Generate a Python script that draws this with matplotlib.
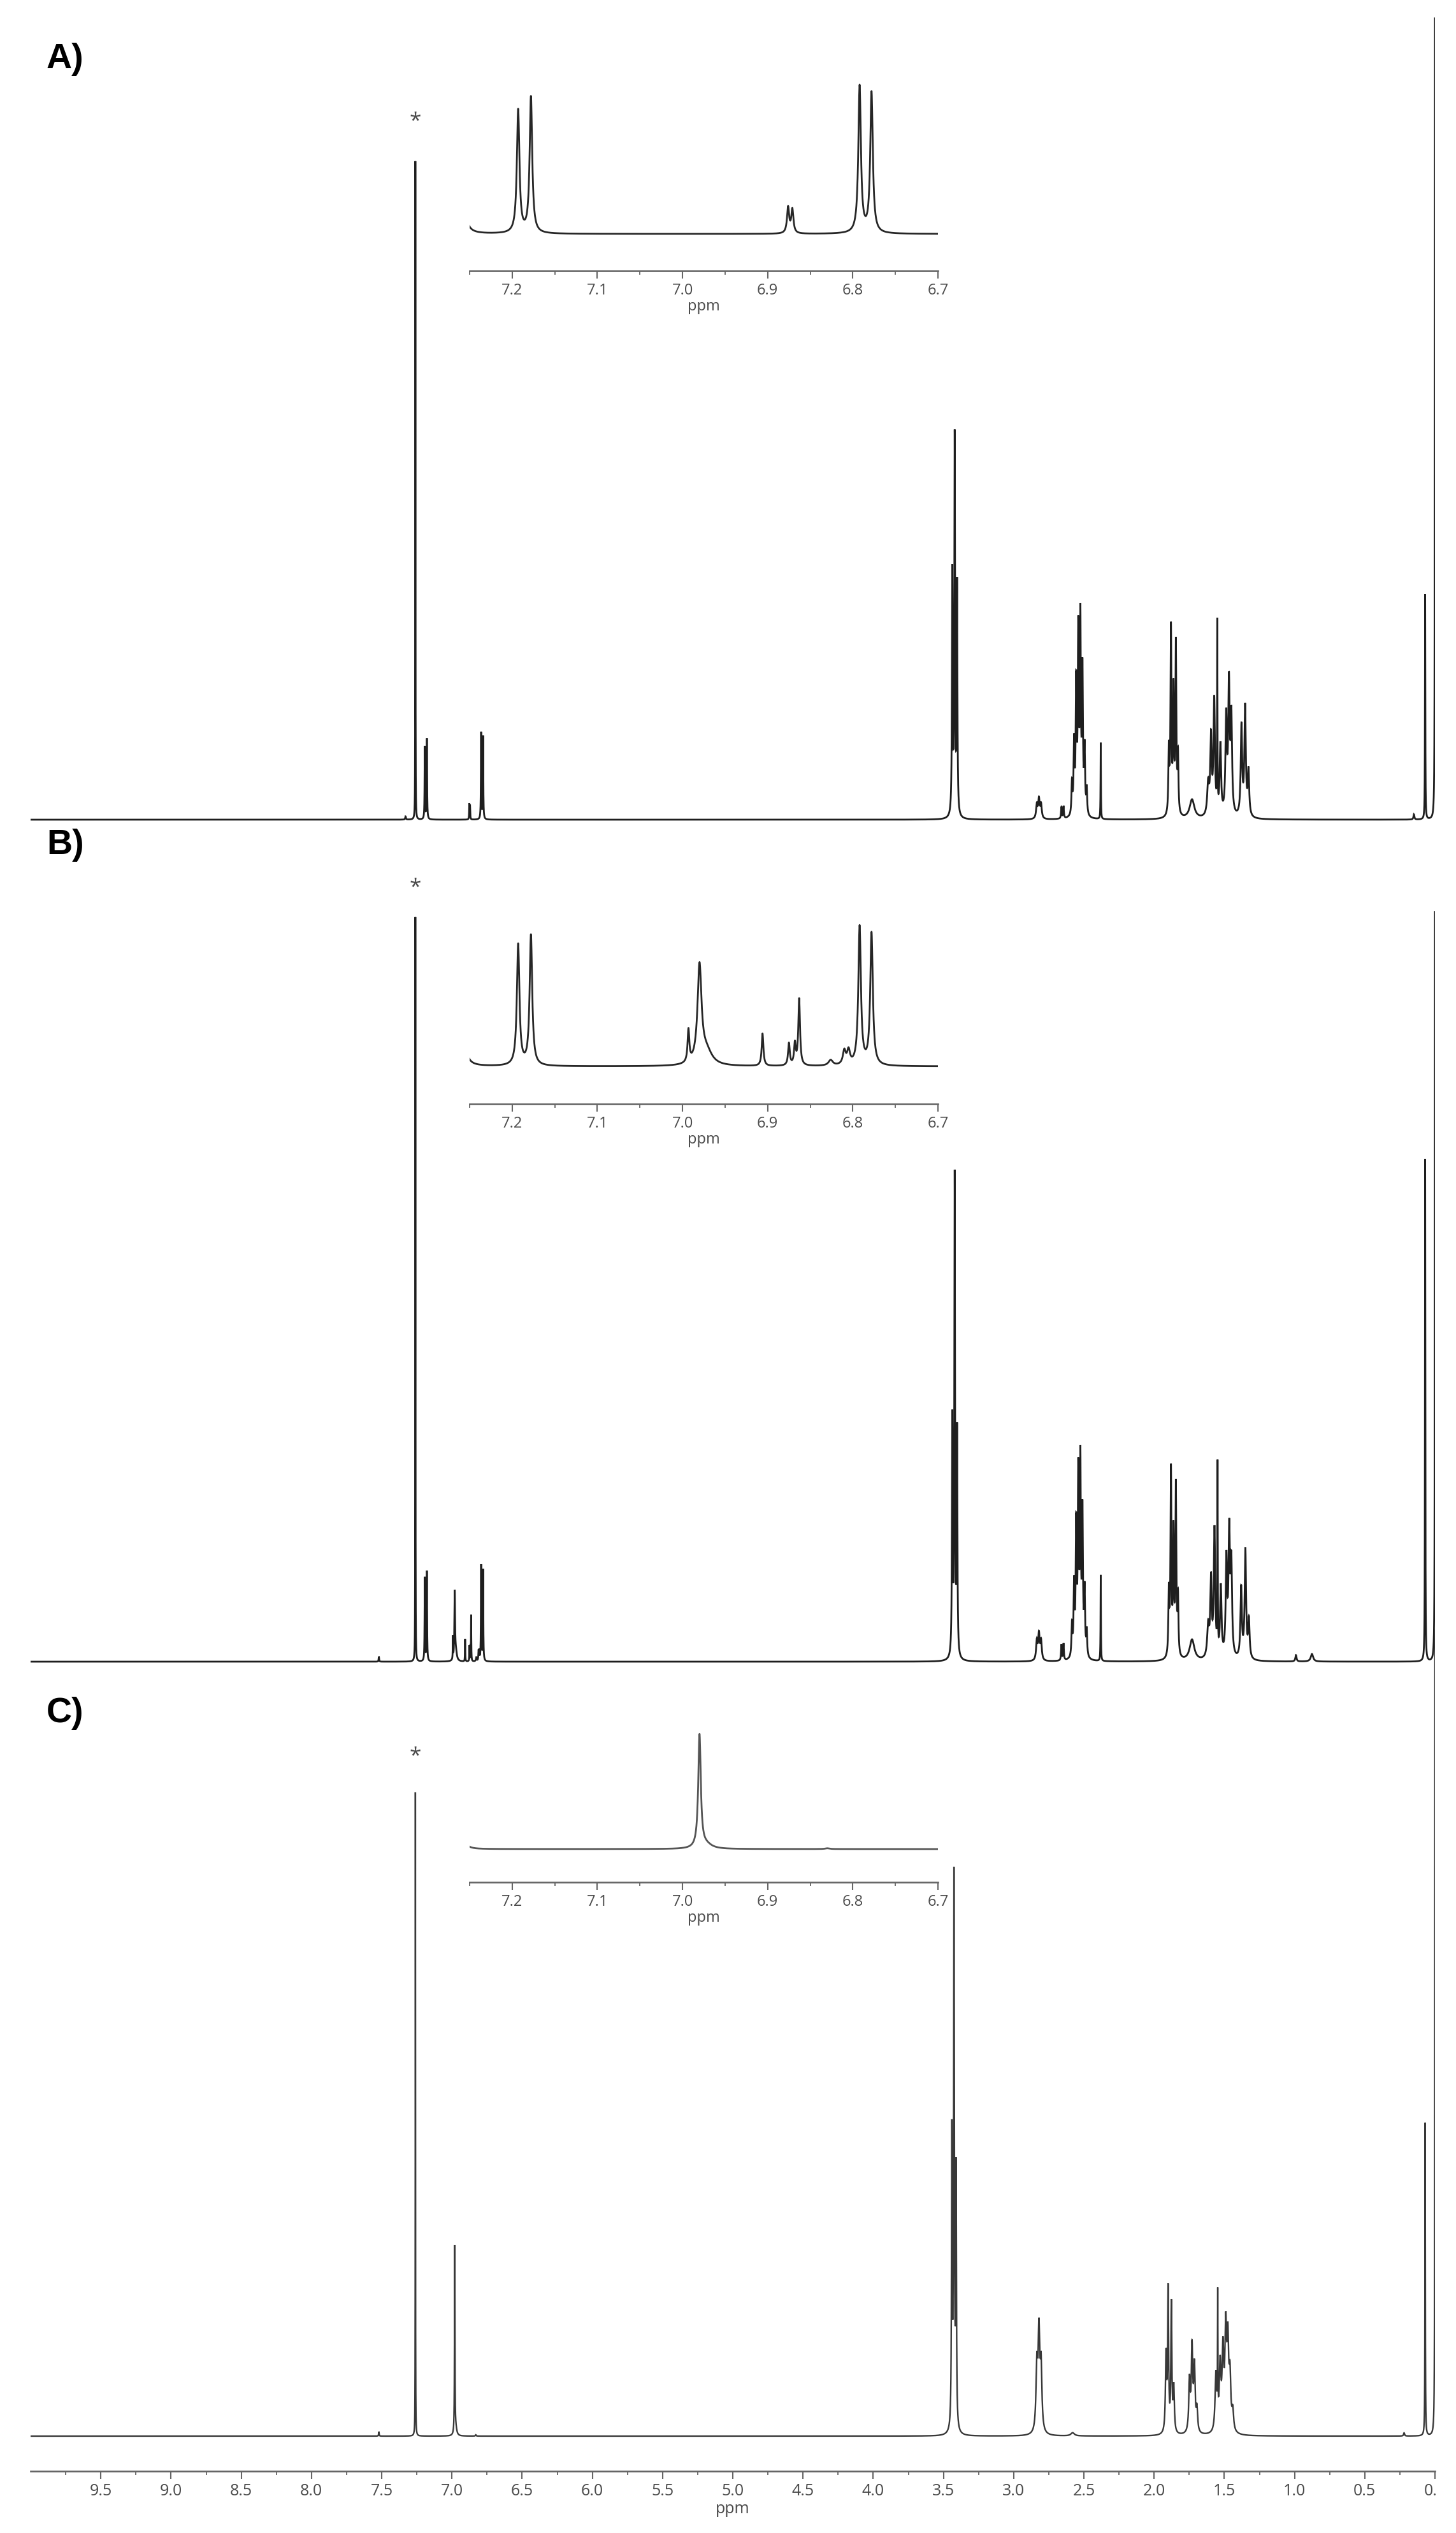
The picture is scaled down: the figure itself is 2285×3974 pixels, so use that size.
import numpy as np
import matplotlib
matplotlib.use("Agg")
import matplotlib.pyplot as plt
from matplotlib.patches import Rectangle
from matplotlib.ticker import FixedLocator, FormatStrFormatter

# ---------------- data (peak tables) ----------------
# each panel: chemical shift (ppm), peak height (a.u.), half width (ppm)
A_ppm = [7.33, 7.26, 7.193, 7.178, 6.876, 6.871, 6.792, 6.778,
         3.437, 3.420, 3.403, 2.835, 2.820, 2.805, 2.660, 2.645,
         2.585, 2.570, 2.555, 2.540, 2.525, 2.510, 2.495, 2.480, 2.380,
         1.895, 1.880, 1.862, 1.845, 1.830, 1.730,
         1.615, 1.595, 1.572, 1.550, 1.528, 1.487, 1.467, 1.450,
         1.378, 1.352, 1.328, 0.150, 0.070, 0.000]
A_height = [5, 1033, 114, 126, 24, 22, 136, 130,
            380, 590, 360, 22, 30, 22, 18, 19,
            50, 110, 200, 280, 300, 220, 100, 40, 120,
            100, 290, 190, 265, 90, 30,
            50, 120, 180, 290, 110, 150, 200, 150,
            140, 170, 70, 8, 353, 1257]
A_hwhm = [0.003, 0.0008, 0.0018, 0.0018, 0.0015, 0.0015, 0.0018, 0.0018,
          0.003, 0.003, 0.003, 0.006, 0.006, 0.006, 0.003, 0.003,
          0.004, 0.004, 0.004, 0.004, 0.004, 0.004, 0.004, 0.004, 0.0015,
          0.004, 0.004, 0.004, 0.004, 0.004, 0.02,
          0.008, 0.006, 0.006, 0.0015, 0.006, 0.006, 0.006, 0.006,
          0.006, 0.006, 0.006, 0.004, 0.0015, 0.0015]

B_ppm = [7.52, 7.26, 7.193, 7.178, 6.993, 6.980, 6.972, 6.906, 6.875, 6.868,
         6.863, 6.826, 6.810, 6.805, 6.792, 6.778,
         3.437, 3.420, 3.403, 2.835, 2.820, 2.805, 2.660, 2.645,
         2.585, 2.570, 2.555, 2.540, 2.525, 2.510, 2.495, 2.480, 2.380,
         1.895, 1.880, 1.862, 1.845, 1.830, 1.730,
         1.615, 1.595, 1.570, 1.548, 1.525, 1.485, 1.465, 1.450,
         1.380, 1.350, 1.325, 0.990, 0.876, 0.070, 0.000]
B_height = [8, 1168, 131, 141, 35, 105, 15, 35, 24, 23,
            72, 6, 15, 15, 150, 143,
            370, 750, 350, 30, 40, 30, 25, 26,
            50, 110, 200, 280, 300, 220, 100, 40, 135,
            100, 290, 190, 265, 90, 33,
            50, 120, 200, 290, 110, 150, 190, 140,
            110, 170, 60, 10, 12, 788, 1176]
B_hwhm = [0.002, 0.0008, 0.0018, 0.0018, 0.0012, 0.0028, 0.008, 0.0012, 0.0012, 0.0012,
          0.0012, 0.003, 0.002, 0.002, 0.0018, 0.0018,
          0.003, 0.003, 0.003, 0.006, 0.006, 0.006, 0.003, 0.003,
          0.004, 0.004, 0.004, 0.004, 0.004, 0.004, 0.004, 0.004, 0.0015,
          0.004, 0.004, 0.004, 0.004, 0.004, 0.02,
          0.008, 0.006, 0.006, 0.0015, 0.006, 0.006, 0.006, 0.006,
          0.006, 0.006, 0.006, 0.005, 0.01, 0.0015, 0.0015]

C_ppm = [7.52, 7.26, 6.980, 6.972, 6.830,
         3.440, 3.425, 3.410, 2.835, 2.820, 2.805, 2.580,
         1.915, 1.900, 1.877, 1.860,
         1.748, 1.730, 1.713, 1.695,
         1.560, 1.547, 1.530, 1.510, 1.490, 1.475, 1.460, 1.440,
         0.220, 0.070, 0.000]
C_height = [7, 1010, 295, 10, 2,
            460, 860, 400, 100, 150, 100, 5,
            120, 220, 200, 70,
            80, 130, 100, 35,
            90, 190, 100, 120, 150, 130, 80, 30,
            5, 491, 1264]
C_hwhm = [0.002, 0.0008, 0.0018, 0.008, 0.003,
          0.003, 0.003, 0.003, 0.007, 0.007, 0.007, 0.015,
          0.005, 0.004, 0.004, 0.005,
          0.006, 0.006, 0.006, 0.006,
          0.007, 0.0015, 0.007, 0.007, 0.007, 0.007, 0.007, 0.007,
          0.004, 0.0015, 0.0015]

panel_labels = ["A)", "B)", "C)"]
solvent_ppm = 7.26                     # marked with an asterisk
main_major_ticks = [9.5, 9.0, 8.5, 8.0, 7.5, 7.0, 6.5, 6.0, 5.5, 5.0,
                    4.5, 4.0, 3.5, 3.0, 2.5, 2.0, 1.5, 1.0, 0.5, 0.0]
main_minor_ticks = [9.75, 9.25, 8.75, 8.25, 7.75, 7.25, 6.75, 6.25, 5.75, 5.25,
                    4.75, 4.25, 3.75, 3.25, 2.75, 2.25, 1.75, 1.25, 0.75, 0.25]
inset_major_ticks = [7.2, 7.1, 7.0, 6.9, 6.8, 6.7]
inset_minor_ticks = [7.25, 7.15, 7.05, 6.95, 6.85, 6.75]
inset_scale = [0.59, 0.69, 1.66]       # main height / inset height

# ---------------- layout ----------------
W, H, DPI = 2285, 3974, 100
fig = plt.figure(figsize=(W / DPI, H / DPI), dpi=DPI)
fig.patch.set_facecolor("white")

GREY_TXT = "#4a4a4a"
GREY_AX = "#666666"
TICKFONT = ["Open Sans", "DejaVu Sans"]


def axes_px(x0, y_top, x1, y_bot):
    return fig.add_axes([x0 / W, 1 - y_bot / H, (x1 - x0) / W, (y_bot - y_top) / H])


def spectrum(grid, ppm, height, hwhm):
    p = np.asarray(ppm)[:, None]
    h = np.asarray(height, float)[:, None]
    w = np.asarray(hwhm)[:, None]
    return (h * w ** 2 / ((grid[None, :] - p) ** 2 + w ** 2)).sum(axis=0)


grid = np.linspace(10.0, 0.0, 60001)
tables = [(A_ppm, A_height, A_hwhm), (B_ppm, B_height, B_hwhm), (C_ppm, C_height, C_hwhm)]

# main panels: (top px, bottom px, baseline px)
main_geo = [(0, 1300, 1286), (1300, 2620, 2607), (2480, 3877, 3822)]
main_col = ["#1e1e1e", "#1e1e1e", "#383838"]
main_lw = [2.0, 2.0, 1.7]
star_offset = [62, 46, 56]
# insets: (top px, bottom/axis px, baseline px)
inset_geo = [(90, 425, 367), (1390, 1732, 1673), (2640, 2953, 2901)]
inset_col = ["#262626", "#262626", "#555555"]
label_base_y = [107, 1340, 2702]
X0, X1 = 48, 2252
IX0, IX1 = 737, 1472


def style_bottom_axis(ax, majors, minors, fs):
    for s in ("top", "left", "right"):
        ax.spines[s].set_visible(False)
    ax.spines["bottom"].set_color(GREY_AX)
    ax.spines["bottom"].set_linewidth(1.9)
    ax.yaxis.set_visible(False)
    ax.xaxis.set_major_locator(FixedLocator(majors))
    ax.xaxis.set_minor_locator(FixedLocator(minors))
    ax.xaxis.set_major_formatter(FormatStrFormatter("%.1f"))
    ax.tick_params(axis="x", which="major", direction="out", length=8.5, width=1.5,
                   color=GREY_AX, labelcolor=GREY_TXT, labelsize=fs, pad=5)
    ax.tick_params(axis="x", which="minor", direction="out", length=4.3, width=1.3,
                   color=GREY_AX)
    for lab in ax.get_xticklabels():
        lab.set_family(TICKFONT)
    ax.patch.set_alpha(0)


for i, (ppm, hgt, wid) in enumerate(tables):
    y = spectrum(grid, ppm, hgt, wid)
    top, bot, base = main_geo[i]
    ax = axes_px(X0, top, X1, bot)
    ax.plot(grid, y, color=main_col[i], lw=main_lw[i], solid_joinstyle="miter")
    ax.set_xlim(10.0, 0.0)
    ax.set_ylim(-(bot - base), base - top)
    ax.patch.set_alpha(0)
    if i < 2:
        ax.axis("off")
    else:
        style_bottom_axis(ax, main_major_ticks, main_minor_ticks, 18)
        ax.set_xlabel("ppm", fontsize=18, color=GREY_TXT, family=TICKFONT, labelpad=2)
    # asterisk over the solvent signal
    h_solv = hgt[ppm.index(solvent_ppm)]
    ax.annotate("*", xy=(solvent_ppm, h_solv), xytext=(0, star_offset[i]),
                textcoords="offset pixels", ha="center", va="center", fontsize=24,
                color=GREY_TXT, family=TICKFONT, annotation_clip=False)
    fig.text(73 / W, 1 - label_base_y[i] / H, panel_labels[i], fontsize=40,
             fontweight="bold", family=["Liberation Sans", "DejaVu Sans"],
             va="baseline", ha="left", color="black")

    # inset: zoom on the aromatic region
    itop, ibot, ibase = inset_geo[i]
    ins = axes_px(IX0, itop, IX1, ibot)
    ins.plot(grid, y, color=inset_col[i], lw=2.0)
    ins.set_xlim(7.25, 6.7)
    k = inset_scale[i]
    ins.set_ylim(-(ibot - ibase) * k, (ibase - itop) * k)
    style_bottom_axis(ins, inset_major_ticks, inset_minor_ticks, 17)
    ins.set_xlabel("ppm", fontsize=17, color=GREY_TXT, family=TICKFONT, labelpad=1)

# image edge: the reference is trimmed just right of 0 ppm
fig.add_artist(Rectangle((2254 / W, 0), (W - 2254) / W, 1, transform=fig.transFigure,
                         facecolor="white", edgecolor="none", zorder=100))

fig.savefig("out.png", dpi=DPI, facecolor="white")
